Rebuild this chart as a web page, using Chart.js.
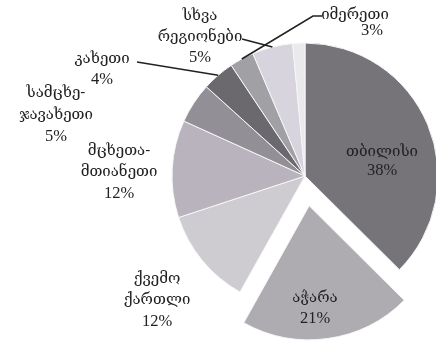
<!DOCTYPE html>
<html>
<head>
<meta charset="utf-8">
<script src="https://cdn.jsdelivr.net/npm/chart.js@4.4.1/dist/chart.umd.min.js"></script>
<style>
  html, body { margin: 0; padding: 0; background: #fff; }
  #wrap { position: relative; width: 436px; height: 342px; }
</style>
</head>
<body>
<div id="wrap"><canvas id="regionsChart"></canvas></div>
<script>
// Regions clockwise from 12 o'clock; '\n' marks where the label wraps
const regions = ['თბილისი', 'აჭარა', 'ქვემო\nქართლი', 'მცხეთა-\nმთიანეთი', 'სამცხე-\nჯავახეთი', 'კახეთი', 'იმერეთი', 'სხვა\nრეგიონები', ''];
const shares = [38, 21, 12, 12, 5, 4, 3, 5, 1.5];
const sliceColors = ['#767478', '#aeacb1', '#cecbd1', '#b8b3bd', '#938f96', '#6b696d', '#a1a0a4', '#d7d4de', '#eae9eb'];
// ajara is pulled out of the pie (Chart.js draws offset / 4)
const sliceOffsets = [0, 120, 0, 0, 0, 0, 0, 0, 0];

// Where each label sits; lead = leader line points, ending on the slice rim
const labelLayout = [
    { x: 382, y: 152, lh: 19 },
    { x: 315, y: 298, lh: 21 },
    { x: 157, y: 279, lh: 21.5 },
    { x: 119, y: 151, lh: 21.5 },
    { x: 56, y: 93, lh: 22 },
    { x: 102, y: 59, lh: 21, lead: [[137, 62]] },
    { x: 355, y: 15, lh: 16, px: 372, lead: [[322, 16], [313, 16]] },
    { x: 200, y: 16, lh: 21, lead: [[242, 39]] },
    null
];

const nameFont = '15px "DejaVu Serif", "DejaVu Sans", serif';
const pctFont = '16.5px "Liberation Serif", "DejaVu Serif", serif';

const pieLabels = {
    id: 'pieLabels',
    afterDatasetsDraw(chart) {
        const ctx = chart.ctx;
        const arcs = chart.getDatasetMeta(0).data;
        ctx.save();
        ctx.fillStyle = '#222222';
        ctx.strokeStyle = '#222222';
        ctx.lineWidth = 1.6;
        ctx.textAlign = 'center';
        ctx.textBaseline = 'middle';

        arcs.forEach((arc, i) => {
            const pos = labelLayout[i];
            if (!pos) return;

            // leader line towards the middle of the slice edge
            if (pos.lead) {
                const mid = (arc.startAngle + arc.endAngle) / 2;
                ctx.beginPath();
                ctx.moveTo(pos.lead[0][0], pos.lead[0][1]);
                pos.lead.slice(1).forEach(p => ctx.lineTo(p[0], p[1]));
                ctx.lineTo(arc.x + Math.cos(mid) * arc.outerRadius, arc.y + Math.sin(mid) * arc.outerRadius);
                ctx.stroke();
            }

            const lines = regions[i].split('\n');
            ctx.font = nameFont;
            lines.forEach((line, k) => {
                ctx.fillText(line, pos.x, pos.y + k * pos.lh);
            });
            ctx.font = pctFont;
            ctx.fillText(shares[i] + '%', pos.px || pos.x, pos.y + lines.length * pos.lh);
        });
        ctx.restore();
    }
};

new Chart(document.getElementById('regionsChart'), {
    type: 'pie',
    data: {
        labels: regions,
        datasets: [{
            data: shares,
            backgroundColor: sliceColors,
            borderColor: '#f6f6f8',
            borderWidth: 1,
            offset: sliceOffsets
        }]
    },
    options: {
        responsive: true,
        maintainAspectRatio: false,
        animation: false,
        radius: 133,
        layout: {
            padding: { left: 174, right: 0, top: 10, bottom: 0 }
        },
        plugins: {
            legend: { display: false },
            tooltip: { enabled: false }
        }
    },
    plugins: [pieLabels]
});
</script>
</body>
</html>
